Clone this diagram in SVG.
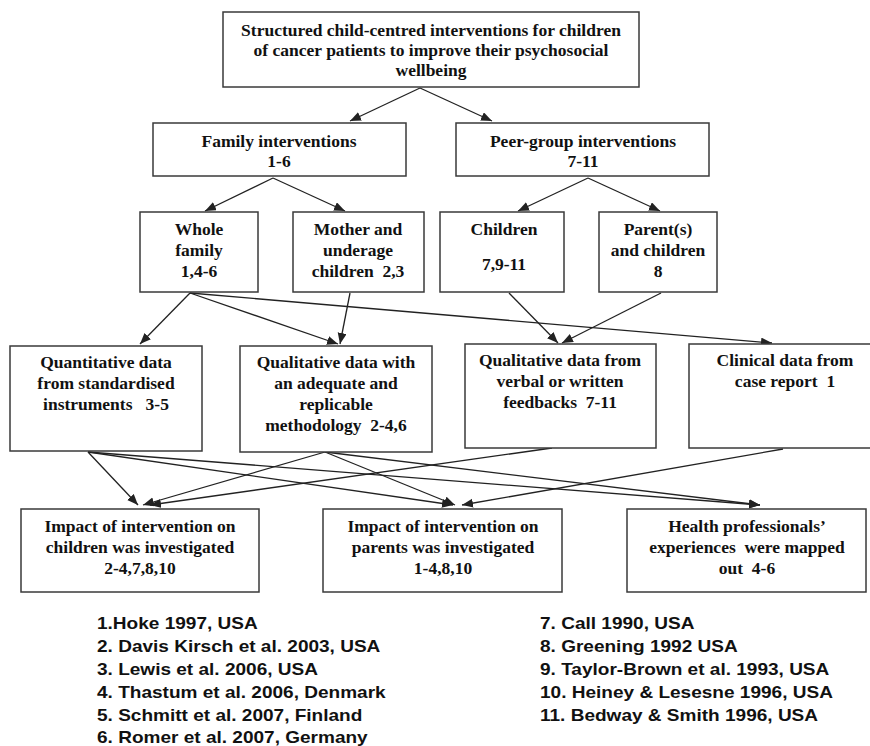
<svg xmlns="http://www.w3.org/2000/svg" width="870" height="746" viewBox="0 0 870 746">
  <style>
    .box { fill: #ffffff; stroke: #3a3a3a; stroke-width: 1.5; }
    .lbl { font-family: "Liberation Serif", "Times New Roman", serif; font-weight: bold; font-size: 17.5px; fill: #111; text-anchor: middle; white-space: pre; }
    .ref { font-family: "Liberation Sans", Arial, sans-serif; font-weight: bold; font-size: 17px; fill: #111; white-space: pre; }
    .conn line { stroke: #222; stroke-width: 1.3; marker-end: url(#arrow); }
  </style>
  <defs>
    <marker id="arrow" markerUnits="userSpaceOnUse" markerWidth="12" markerHeight="10" refX="11" refY="4.5" orient="auto">
      <path d="M0,0 L11,4.5 L0,9 z" fill="#222"/>
    </marker>
  </defs>
  <rect width="870" height="746" fill="#ffffff"/>

  <!-- connectors -->
  <g id="connectors" class="conn">
    <line x1="420" y1="88" x2="350" y2="121"/>
    <line x1="420" y1="88" x2="492" y2="121"/>
    <line x1="273" y1="178" x2="205" y2="211"/>
    <line x1="273" y1="178" x2="345" y2="211"/>
    <line x1="588" y1="178" x2="518" y2="211"/>
    <line x1="588" y1="178" x2="660" y2="211"/>
    <line x1="190" y1="293" x2="140" y2="344"/>
    <line x1="190" y1="293" x2="338" y2="344"/>
    <line x1="350" y1="293" x2="340" y2="344"/>
    <line x1="190" y1="293" x2="772" y2="343"/>
    <line x1="509" y1="293" x2="558" y2="343"/>
    <line x1="661" y1="293" x2="562" y2="343"/>
    <line x1="88" y1="452" x2="138" y2="505"/>
    <line x1="88" y1="452" x2="453" y2="505"/>
    <line x1="88" y1="452" x2="760" y2="505"/>
    <line x1="325" y1="452" x2="143" y2="505"/>
    <line x1="325" y1="452" x2="455" y2="505"/>
    <line x1="325" y1="452" x2="760" y2="505"/>
    <line x1="552" y1="448" x2="150" y2="505"/>
    <line x1="783" y1="449" x2="462" y2="505"/>
  </g>

  <g id="root">
    <rect class="box" x="223" y="12" width="416" height="75"/>
    <text class="lbl" x="431" y="36">Structured child-centred interventions for children</text>
    <text class="lbl" x="431" y="56">of cancer patients to improve their psychosocial</text>
    <text class="lbl" x="431" y="76">wellbeing</text>
  </g>

  <g id="family">
    <rect class="box" x="153" y="123" width="253" height="53"/>
    <text class="lbl" x="279" y="147">Family interventions</text>
    <text class="lbl" x="279" y="167">1-6</text>
  </g>
  <g id="peer">
    <rect class="box" x="456" y="123" width="253" height="53"/>
    <text class="lbl" x="583" y="147">Peer-group interventions</text>
    <text class="lbl" x="583" y="167">7-11</text>
  </g>

  <g id="whole-family">
    <rect class="box" x="140" y="212" width="118" height="80"/>
    <text class="lbl" x="199" y="235">Whole</text>
    <text class="lbl" x="199" y="256">family</text>
    <text class="lbl" x="199" y="277">1,4-6</text>
  </g>
  <g id="mother">
    <rect class="box" x="293" y="212" width="131" height="80"/>
    <text class="lbl" x="358" y="235">Mother and</text>
    <text class="lbl" x="358" y="256">underage</text>
    <text class="lbl" x="358" y="277">children  2,3</text>
  </g>
  <g id="children">
    <rect class="box" x="440" y="212" width="124" height="80"/>
    <text class="lbl" x="504" y="235">Children</text>
    <text class="lbl" x="504" y="270">7,9-11</text>
  </g>
  <g id="parents">
    <rect class="box" x="599" y="212" width="118" height="80"/>
    <text class="lbl" x="658" y="235">Parent(s)</text>
    <text class="lbl" x="658" y="256">and children</text>
    <text class="lbl" x="658" y="277">8</text>
  </g>

  <g id="quantitative">
    <rect class="box" x="10" y="346" width="192" height="105"/>
    <text class="lbl" x="106" y="368">Quantitative data</text>
    <text class="lbl" x="106" y="389">from standardised</text>
    <text class="lbl" x="106" y="410">instruments   3-5</text>
  </g>
  <g id="qualitative">
    <rect class="box" x="240" y="346" width="192" height="106"/>
    <text class="lbl" x="336" y="368">Qualitative data with</text>
    <text class="lbl" x="336" y="389">an adequate and</text>
    <text class="lbl" x="336" y="410">replicable</text>
    <text class="lbl" x="336" y="431">methodology  2-4,6</text>
  </g>
  <g id="feedback">
    <rect class="box" x="465" y="344" width="191" height="104"/>
    <text class="lbl" x="560" y="366">Qualitative data from</text>
    <text class="lbl" x="560" y="387">verbal or written</text>
    <text class="lbl" x="560" y="408">feedbacks  7-11</text>
  </g>
  <g id="clinical">
    <rect class="box" x="689" y="344" width="200" height="104"/>
    <text class="lbl" x="785" y="366">Clinical data from</text>
    <text class="lbl" x="785" y="387">case report  1</text>
  </g>

  <g id="impact-children">
    <rect class="box" x="21" y="509" width="238" height="83"/>
    <text class="lbl" x="140" y="532">Impact of intervention on</text>
    <text class="lbl" x="140" y="553">children was investigated</text>
    <text class="lbl" x="140" y="574">2-4,7,8,10</text>
  </g>
  <g id="impact-parents">
    <rect class="box" x="323" y="509" width="239" height="83"/>
    <text class="lbl" x="443" y="532">Impact of intervention on</text>
    <text class="lbl" x="443" y="553">parents was investigated</text>
    <text class="lbl" x="443" y="574">1-4,8,10</text>
  </g>
  <g id="professionals">
    <rect class="box" x="627" y="509" width="239" height="83"/>
    <text class="lbl" x="747" y="532">Health professionals’</text>
    <text class="lbl" x="747" y="553">experiences  were mapped</text>
    <text class="lbl" x="747" y="574">out  4-6</text>
  </g>

  <!-- study list -->
  <g id="refs-left" transform="translate(97,0) scale(1.12,1)">
    <text class="ref" x="0" y="629">1.Hoke 1997, USA</text>
    <text class="ref" x="0" y="652">2. Davis Kirsch et al. 2003, USA</text>
    <text class="ref" x="0" y="675">3. Lewis et al. 2006, USA</text>
    <text class="ref" x="0" y="698">4. Thastum et al. 2006, Denmark</text>
    <text class="ref" x="0" y="721">5. Schmitt et al. 2007, Finland</text>
    <text class="ref" x="0" y="743">6. Romer et al. 2007, Germany</text>
  </g>
  <g id="refs-right" transform="translate(540,0) scale(1.12,1)">
    <text class="ref" x="0" y="629">7. Call 1990, USA</text>
    <text class="ref" x="0" y="652">8. Greening 1992 USA</text>
    <text class="ref" x="0" y="675">9. Taylor-Brown et al. 1993, USA</text>
    <text class="ref" x="0" y="698">10. Heiney &amp; Lesesne 1996, USA</text>
    <text class="ref" x="0" y="721">11. Bedway &amp; Smith 1996, USA</text>
  </g>
</svg>
